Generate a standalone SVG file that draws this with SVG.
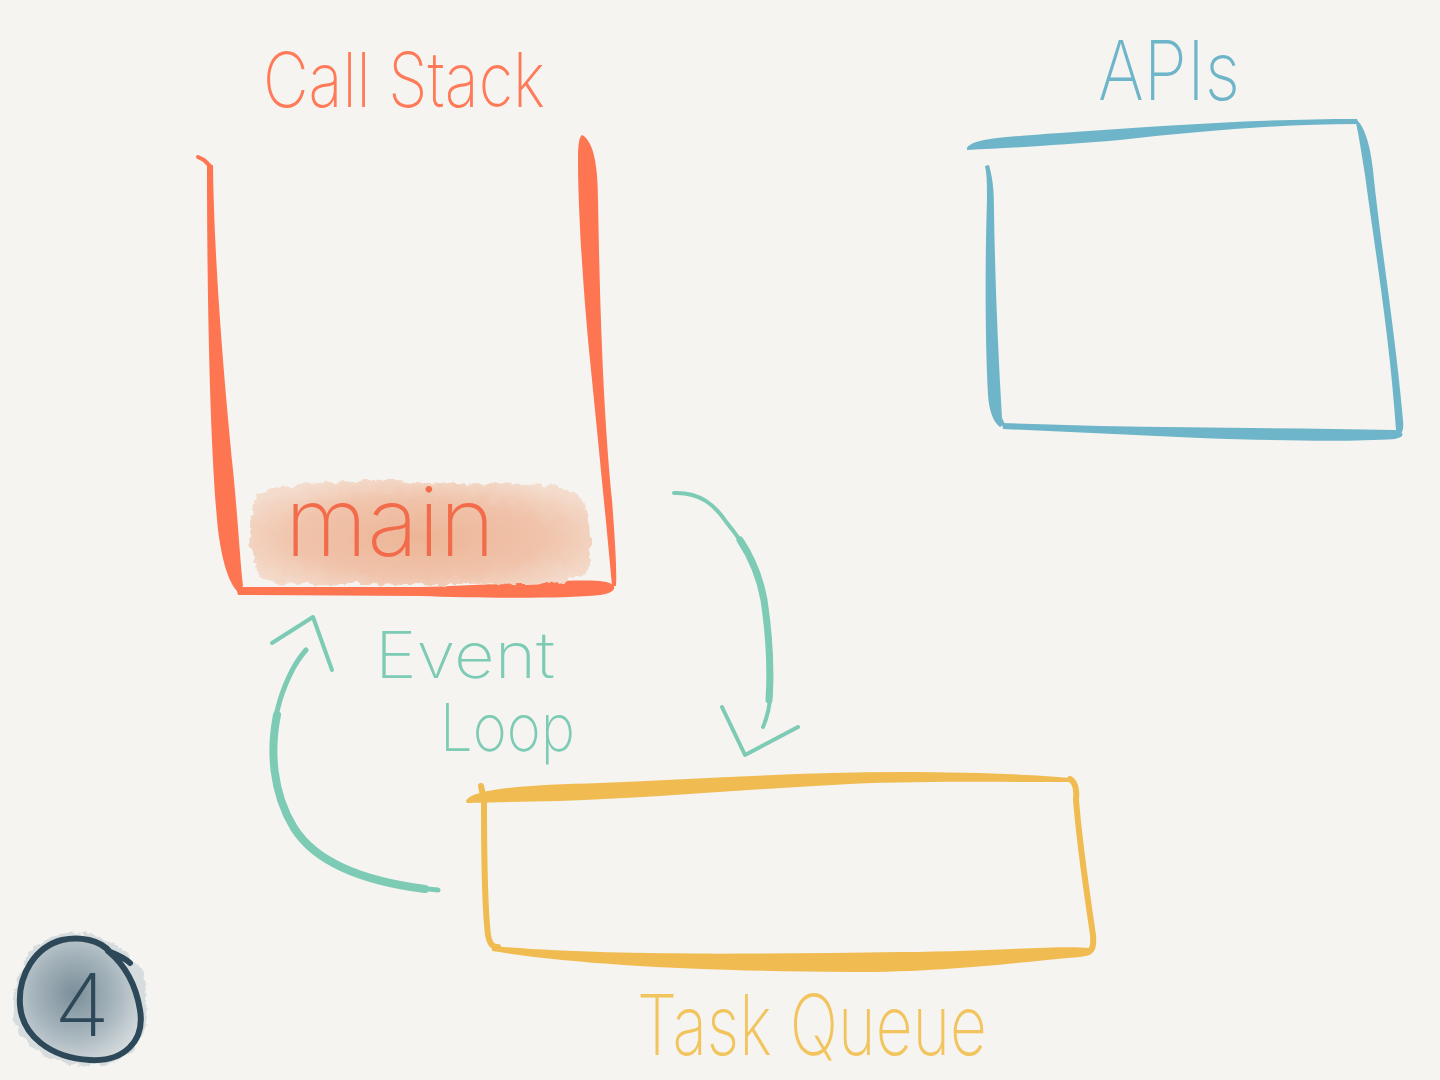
<svg xmlns="http://www.w3.org/2000/svg" width="1440" height="1080" viewBox="0 0 1440 1080">
<defs>
<style>
.lbl{font-family:Inter,"Liberation Sans","DejaVu Sans",sans-serif;font-weight:200;}
.orange{fill:#fe7552;}
.blue{fill:#6fb5c9;}
.yellow{fill:#f0bc52;}
.teal{fill:none;stroke:#7dcbb5;stroke-linecap:round;stroke-linejoin:round;}
.ln{fill:none;stroke-linecap:round;stroke-linejoin:round;}
</style>
<radialGradient id="wash" cx="0.5" cy="0.55" r="0.6">
<stop offset="0" stop-color="#edb597"/>
<stop offset="0.6" stop-color="#f0c3aa"/>
<stop offset="1" stop-color="#f4dccd"/>
</radialGradient>
<radialGradient id="badgeFill" cx="0.45" cy="0.45" r="0.6">
<stop offset="0" stop-color="#7b8f9a"/>
<stop offset="0.6" stop-color="#a9b7be"/>
<stop offset="1" stop-color="#d3d9dc"/>
</radialGradient>
<filter id="rough" x="-10%" y="-10%" width="120%" height="120%">
<feTurbulence type="fractalNoise" baseFrequency="0.08" numOctaves="3" seed="4"/>
<feDisplacementMap in="SourceGraphic" scale="10" xChannelSelector="R" yChannelSelector="G"/>
</filter>
</defs>
<rect width="1440" height="1080" fill="#f5f4f0"/>

<g id="call-stack">
<text class="lbl" x="263" y="107" font-size="76" textLength="282" lengthAdjust="spacingAndGlyphs" fill="#fe7a58">Call Stack</text>
<path class="ln" d="M198,157 L204,160 L210,166" stroke="#fe7552" stroke-width="4"/>
<path class="orange" d="M207,166 L213,165 C214,260 224,380 233,470 C238,520 240,560 243,586 L238,592 C228,582 222,560 218,530 C210,450 207,300 207,166 Z"/>
<path class="orange" d="M582,135 C592,140 598,160 598,200 C600,320 604,420 612,500 C615,540 617,570 616,586 L612,586 C608,540 598,440 590,360 C582,280 578,200 578,160 C578,145 579,137 582,135 Z"/>
<path class="orange" d="M236,587 L420,587 C500,585 560,579 600,581 C619,583 619,592 600,595 C560,599 480,598 420,596 L238,595 Z"/>
</g>

<g id="main">
<path filter="url(#rough)" fill="url(#wash)" d="M258,492 C290,484 330,482 370,480 C410,478 450,486 490,484 C530,482 565,486 582,496 C592,515 590,545 590,565 C585,580 560,584 520,584 C470,585 420,586 370,584 C320,584 280,586 260,578 C250,560 248,530 252,510 Z"/>
<text class="lbl" x="285" y="556" font-size="96" textLength="210" lengthAdjust="spacingAndGlyphs" fill="#f26b4b">main</text>
</g>

<g id="apis">
<text class="lbl" x="1098" y="100" font-size="82" textLength="142" lengthAdjust="spacingAndGlyphs" fill="#6fb5c9">APIs</text>
<path class="blue" d="M967,148 C972,139 1000,137 1060,133 C1150,127 1250,119 1357,119 L1358,124 C1280,124 1200,131 1120,140 C1060,145 1010,148 967,150 Z"/>
<path class="blue" d="M1355,119 C1362,122 1370,140 1373,170 C1380,240 1395,330 1403,420 C1404,430 1402,434 1398,434 L1396,430 C1390,340 1375,250 1365,175 C1361,150 1358,130 1355,119 Z"/>
<path class="blue" d="M985,166 L989,165 C993,180 994,190 994,210 C995,280 998,350 1002,418 L1005,424 L1000,427 C993,422 989,410 988,395 C985,340 985,260 987,200 C987,185 987,175 985,166 Z"/>
<path class="blue" d="M1002,423 L1100,426 C1200,428 1300,428 1395,430 C1405,432 1405,437 1395,439 C1350,442 1290,441 1200,438 L1003,429 Z"/>
</g>

<g id="task-queue">
<path class="yellow" d="M466,801 C472,788 530,785 600,783 C700,779 800,772 900,772 C980,772 1040,775 1072,778 L1071,782 C1000,782 920,781 850,784 C750,789 650,798 560,801 L467,803 Z"/>
<path class="ln" d="M481,786 L484,800 C484,860 485,910 488,935 C490,945 493,947 498,947" stroke="#f0bc52" stroke-width="6"/>
<path class="ln" d="M1070,779 C1075,782 1077,790 1076,800 C1080,850 1088,900 1093,935 C1094,948 1092,952 1085,953" stroke="#f0bc52" stroke-width="6"/>
<path class="yellow" d="M492,946 C600,956 750,954 900,952 C1000,951 1060,945 1090,948 C1094,952 1090,956 1080,957 C1020,962 950,972 850,972 C700,971 580,965 492,951 Z"/>
<text class="lbl" x="637" y="1055" font-size="84" textLength="350" lengthAdjust="spacingAndGlyphs" fill="#f2c45e">Task Queue</text>
</g>

<g id="event-loop-label">
<text class="lbl" x="375" y="678" font-size="64" textLength="180" lengthAdjust="spacingAndGlyphs" fill="#7dcbb5">Event</text>
<text class="lbl" x="440" y="751" font-size="66" textLength="135" lengthAdjust="spacingAndGlyphs" fill="#7dcbb5">Loop</text>
</g>

<g id="connectors">
<path class="teal" d="M674,493 C700,492 715,505 727,523 C745,545 757,565 762,590 C770,630 772,660 771,690 C770,705 767,718 763,727" stroke-width="4"/>
<path class="teal" d="M740,540 C752,558 760,578 764,600 C770,640 771,670 769,700" stroke-width="7"/>
<path class="teal" d="M722,707 L745,755 L798,727" stroke-width="4"/>
<path class="teal" d="M438,890 C380,885 320,870 295,830 C270,790 268,740 280,700 C288,675 297,660 306,650" stroke-width="5"/>
<path class="teal" d="M425,889 C370,882 318,866 294,828 C272,792 270,750 277,715" stroke-width="8"/>
<path class="teal" d="M272,643 L313,617 L332,670" stroke-width="4"/>
</g>

<g id="badge">
<path filter="url(#rough)" fill="#d7dcde" d="M60,935 C95,928 130,945 142,975 C152,1005 150,1045 120,1060 C90,1072 45,1062 25,1040 C8,1020 12,985 25,960 C35,945 45,938 60,935 Z"/>
<path fill="url(#badgeFill)" d="M110,952 C100,940 80,936 62,940 C35,947 18,975 20,1005 C22,1035 50,1058 90,1060 C125,1062 145,1040 140,1010 C136,985 125,965 110,952 Z"/>
<path class="ln" stroke="#2d4858" stroke-width="6" d="M110,952 C100,940 80,936 62,940 C35,947 18,975 20,1005 C22,1035 50,1058 90,1060 C125,1062 145,1040 140,1010 C136,985 125,965 108,951 C118,955 125,958 130,963"/>
<text class="lbl" x="54" y="1036" font-size="86" textLength="56" lengthAdjust="spacingAndGlyphs" fill="#2d4858">4</text>
</g>
</svg>
